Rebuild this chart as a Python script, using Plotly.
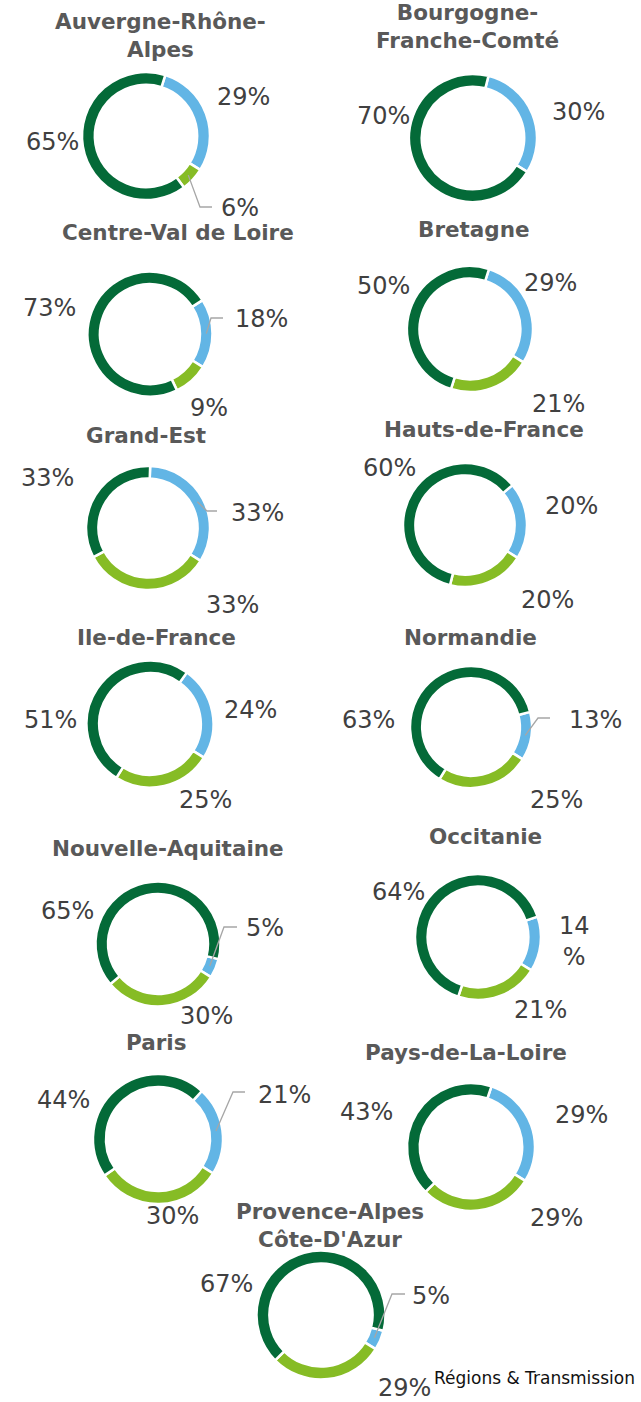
import math
import plotly.graph_objects as go

W, H = 641, 1402

# ---------------- data ----------------
regions = ["Auvergne-Rhône-<br>Alpes", "Bourgogne-<br>Franche-Comté", "Centre-Val de Loire",
           "Bretagne", "Grand-Est", "Hauts-de-France", "Ile-de-France", "Normandie",
           "Nouvelle-Aquitaine", "Occitanie", "Paris", "Pays-de-La-Loire",
           "Provence-Alpes<br>Côte-D'Azur"]
series_names = ["Série 1", "Série 2", "Série 3"]
serie_blue = [29, 30, 18, 29, 33, 20, 24, 13, 5, 14, 21, 29, 5]
serie_light_green = [6, 0, 9, 21, 33, 20, 25, 25, 30, 21, 30, 29, 29]
serie_dark_green = [65, 70, 73, 50, 33, 60, 51, 63, 65, 64, 44, 43, 67]
footer = "Régions & Transmission"

# ---------------- style / layout ----------------
colors = ["#62B5E5", "#86BC25", "#046A38"]
HOLE = 0.8
END_BLUE = 122  # angle (deg, clockwise from top) where the first slice ends

# donut centre (px) and diameter (px)
centers = [(146, 136), (473, 138), (150, 334), (470, 329), (148, 528), (465, 525),
           (150, 724), (471, 727), (158, 944), (478, 937), (158, 1139), (471, 1147),
           (321, 1315)]
diam = [128, 128, 125, 126, 124, 124, 127, 122, 125, 126, 130, 128, 129]
title_pos = [(161, 36), (467, 27), (178, 233), (474, 230), (146, 435), (484, 429),
             (156, 638), (470, 638), (168, 848), (485, 837), (156, 1042), (466, 1052),
             (330, 1225)]
# label centre offsets from donut centre (blue, light green, dark green)
label_off = [
    [(97, -39), (94, 72), (-94, 6)],
    [(105, -26), None, (-90, -22)],
    [(111, -15), (59, 74), (-101, -26)],
    [(80, -46), (88, 75), (-87, -43)],
    [(109, -15), (84, 77), (-101, -50)],
    [(106, -19), (82, 75), (-76, -57)],
    [(100, -14), (55, 76), (-100, -4)],
    [(124, -7), (85, 73), (-103, -7)],
    [(107, -16), (48, 72), (-91, -33)],
    [(96, 5), (62, 73), (-79, -45)],
    [(126, -44), (14, 77), (-95, -39)],
    [(110, -32), (85, 71), (-105, -35)],
    [(110, -19), (83, 73), (-95, -31)],
]
# leader lines: (chart index, slice index, elbow offset, end offset)
leaders = [
    (0, 1, (54, 71), (66, 71)),
    (2, 0, (61, -16), (73, -16)),
    (4, 0, (59, -17), (69, -17)),
    (7, 0, (67, -9), (79, -9)),
    (8, 0, (66, -17), (79, -17)),
    (10, 0, (75, -47), (87, -47)),
    (12, 0, (71, -21), (84, -21)),
]


def px(x):
    return x / W


def py(y):
    return 1 - y / H


fig = go.Figure()
annotations = []
shapes = []
rotations = []

for i, name in enumerate(regions):
    vals = [serie_blue[i], serie_light_green[i], serie_dark_green[i]]
    total = sum(vals)
    rot = END_BLUE - 360.0 * vals[0] / total
    rotations.append(rot)
    keep = [k for k in range(3) if vals[k] > 0]
    cx, cy = centers[i]
    r = diam[i] / 2
    fig.add_trace(go.Pie(
        labels=[series_names[k] for k in keep],
        values=[vals[k] for k in keep],
        marker=dict(colors=[colors[k] for k in keep], line=dict(color="white", width=2.5)),
        hole=HOLE, sort=False, direction="clockwise", rotation=rot,
        textinfo="none", showlegend=False, hoverinfo="label+value",
        domain=dict(x=[px(cx - r), px(cx + r)], y=[py(cy + r), py(cy - r)]),
    ))
    tx, ty = title_pos[i]
    annotations.append(dict(
        x=px(tx), y=py(ty), xref="paper", yref="paper", text="<b>%s</b>" % name,
        showarrow=False, xanchor="center", yanchor="middle",
        font=dict(family="DejaVu Sans", size=21.5, color="#595959"),
    ))
    for k in range(3):
        off = label_off[i][k]
        if off is None or vals[k] <= 0:
            continue
        txt = "%d%%" % vals[k]
        if i == 9 and k == 0:
            txt = "%d<br>%%" % vals[k]
        annotations.append(dict(
            x=px(cx + off[0]), y=py(cy + off[1]), xref="paper", yref="paper",
            text=txt, showarrow=False, xanchor="center", yanchor="middle",
            font=dict(family="DejaVu Sans", size=24, color="#404040"),
        ))

for (i, k, elbow, end) in leaders:
    vals = [serie_blue[i], serie_light_green[i], serie_dark_green[i]]
    total = sum(vals)
    before = sum(vals[:k])
    mid = rotations[i] + 360.0 * (before + vals[k] / 2) / total
    cx, cy = centers[i]
    rr = diam[i] / 2 * 0.9
    sx = cx + rr * math.sin(math.radians(mid))
    sy = cy - rr * math.cos(math.radians(mid))
    path = "M %f %f L %f %f L %f %f" % (
        px(sx), py(sy), px(cx + elbow[0]), py(cy + elbow[1]), px(cx + end[0]), py(cy + end[1]))
    shapes.append(dict(type="path", xref="paper", yref="paper", path=path,
                       line=dict(color="#A6A6A6", width=1.3)))

annotations.append(dict(
    x=px(637), y=py(1378), xref="paper", yref="paper", text=footer,
    showarrow=False, xanchor="right", yanchor="middle",
    font=dict(family="DejaVu Sans", size=17, color="#111111"),
))

fig.update_layout(
    width=W, height=H, autosize=False,
    margin=dict(l=0, r=0, t=0, b=0, pad=0),
    paper_bgcolor="white", plot_bgcolor="white",
    annotations=annotations, shapes=shapes,
)

fig.write_html("out.html", config={"displayModeBar": False},
               post_script="document.body.style.margin='0px';")
